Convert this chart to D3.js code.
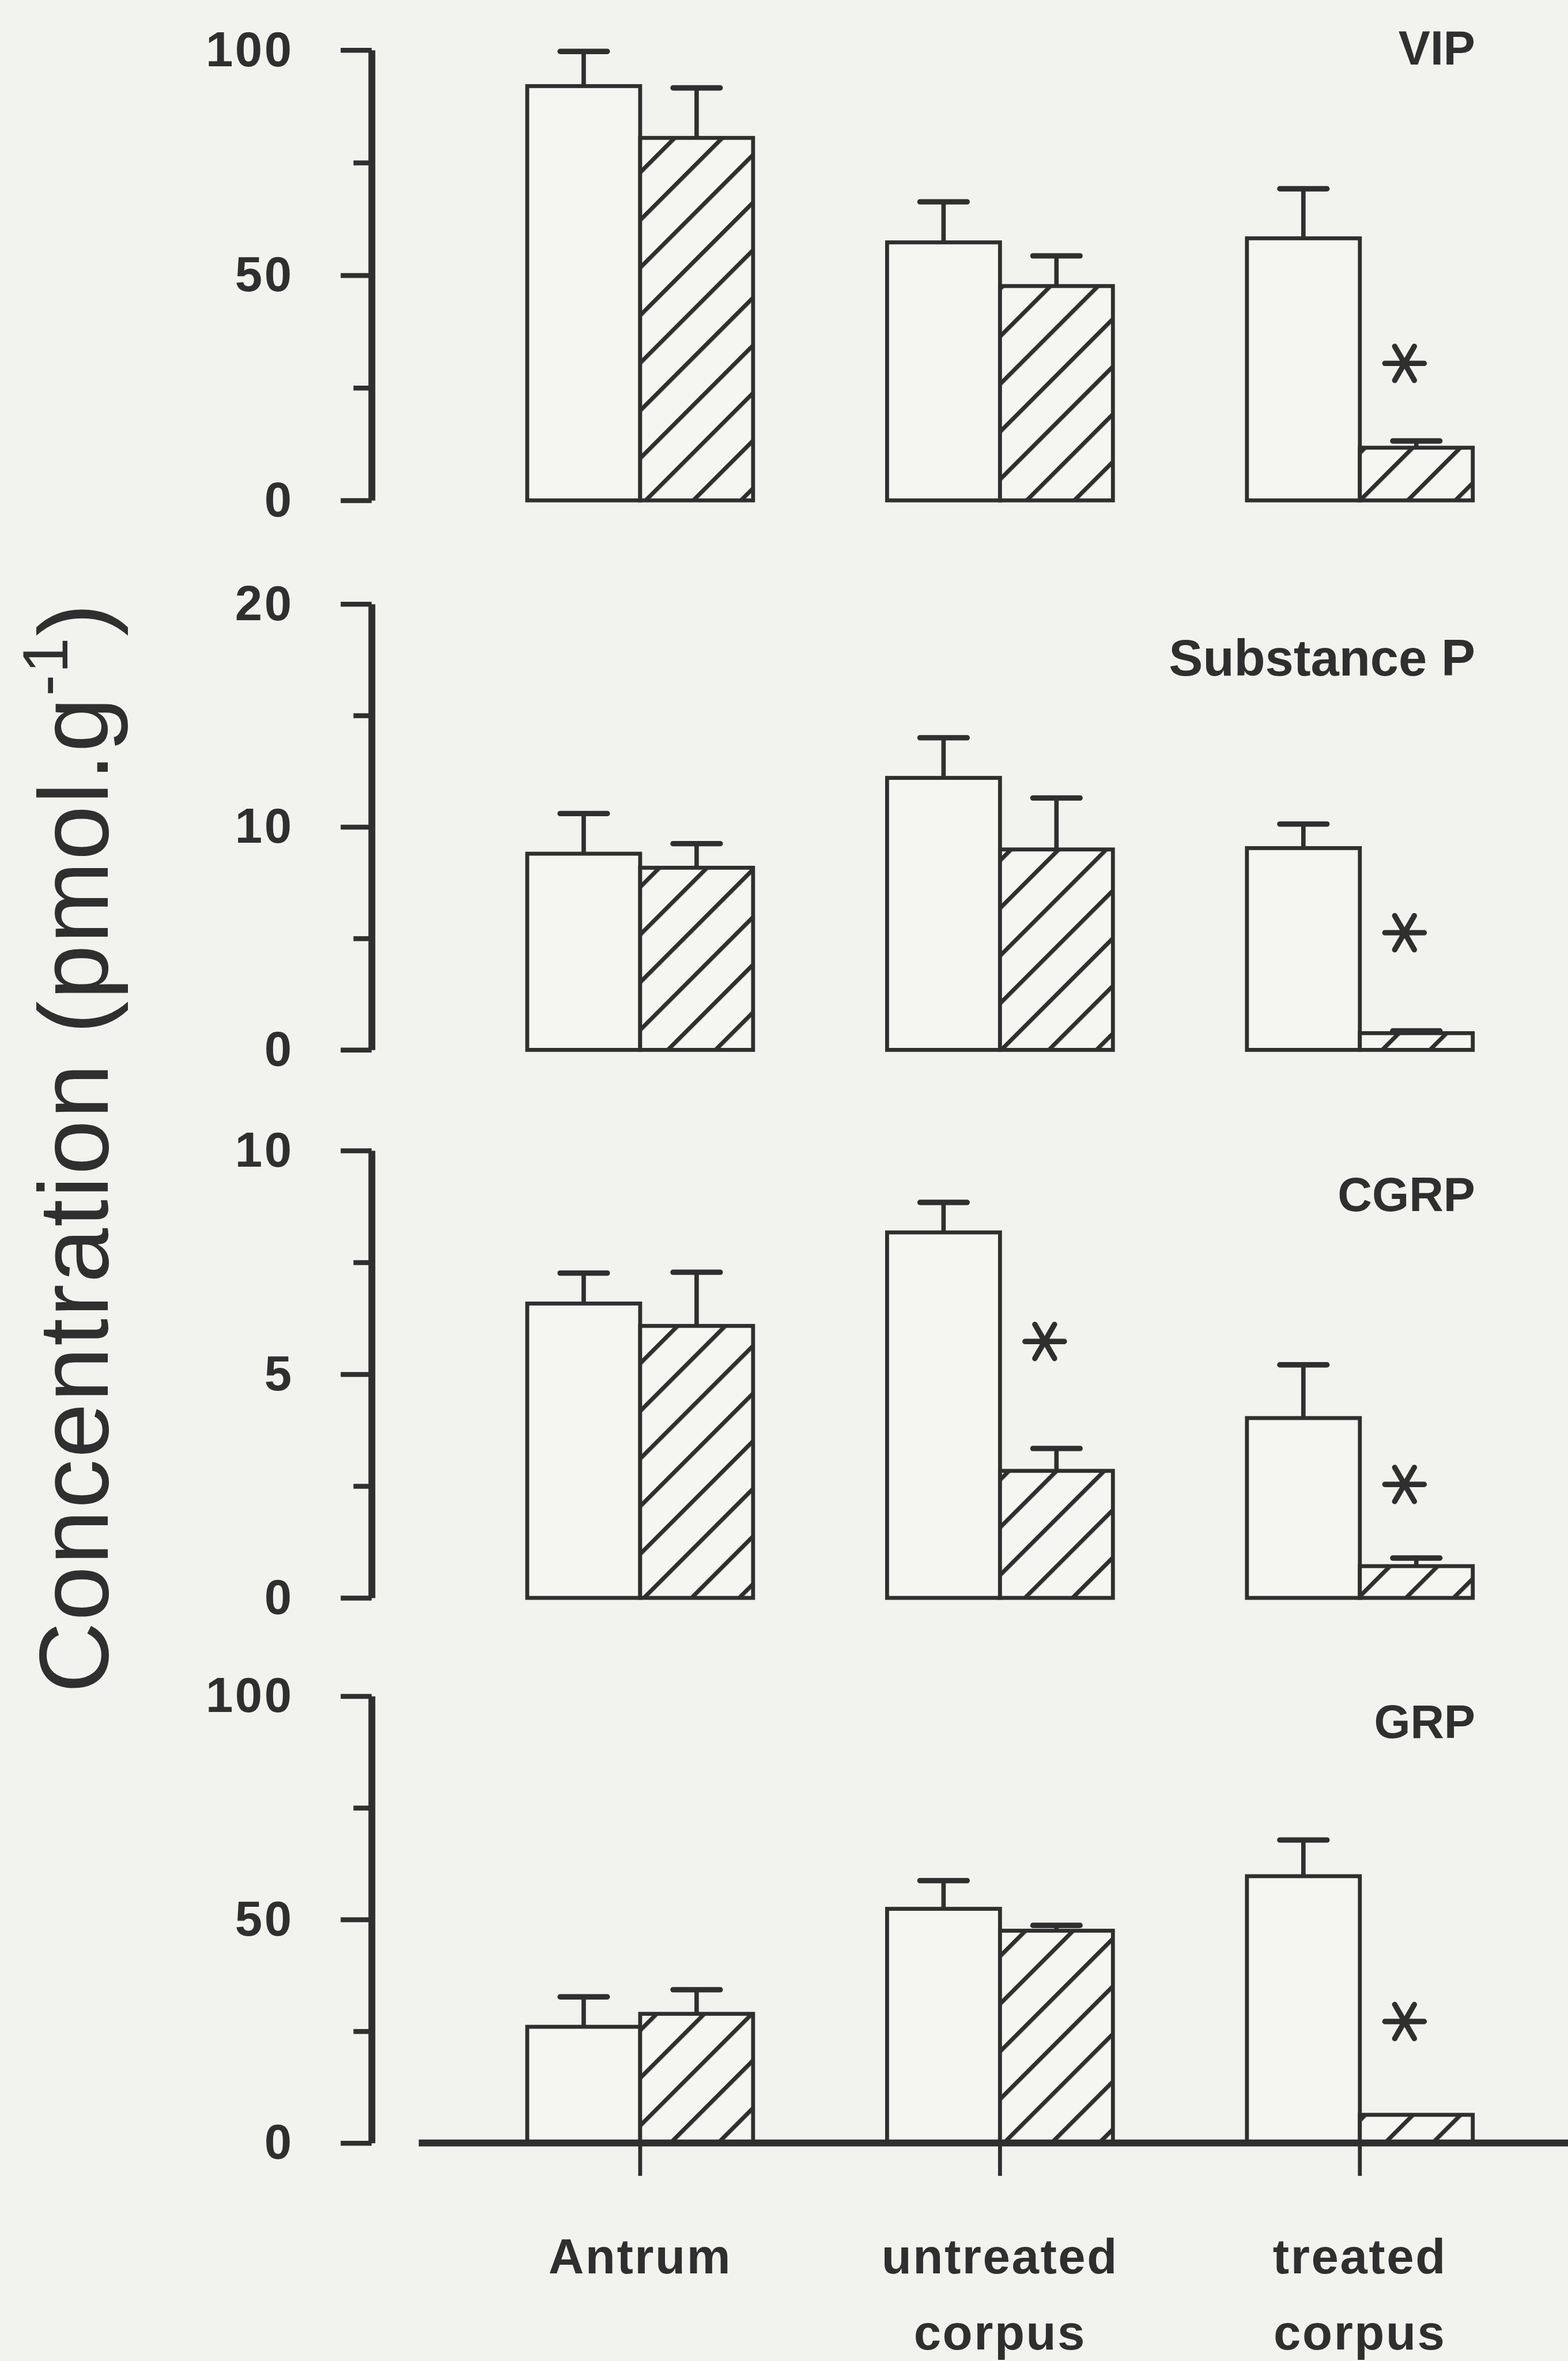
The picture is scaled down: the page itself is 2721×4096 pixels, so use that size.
<!DOCTYPE html>
<html>
<head>
<meta charset="utf-8">
<script src="https://cdn.jsdelivr.net/npm/d3@7"></script>
<style>
  html, body { margin: 0; padding: 0; background: #f2f2ef; }
  svg { display: block; }
</style>
</head>
<body>
<script>
// ---------- data ----------
const sites = ["Antrum", "untreated corpus", "treated corpus"];
const siteLines = [["Antrum"], ["untreated", "corpus"], ["treated", "corpus"]];
const peptides = ["VIP", "Substance P", "CGRP", "GRP"];
const axisMax = [100, 20, 10, 100];
const majorTicks = [[0, 50, 100], [0, 10, 20], [0, 5, 10], [0, 50, 100]];
const minorTicks = [[25, 75], [5, 15], [2.5, 7.5], [25, 75]];

// open bars (control) and hatched bars (treated): mean and SEM per site
const controlMean = [
  [92.0, 57.3, 58.2],
  [8.8, 12.2, 9.05],
  [6.58, 8.17, 4.02],
  [26.0, 52.4, 59.7]
];
const controlSem = [
  [7.7, 9.0, 11.0],
  [1.8, 1.8, 1.08],
  [0.68, 0.67, 1.19],
  [6.7, 6.3, 8.1]
];
const treatedMean = [
  [80.5, 47.6, 11.7],
  [8.17, 8.99, 0.75],
  [6.08, 2.84, 0.71],
  [28.9, 47.5, 6.3]
];
const treatedSem = [
  [11.1, 6.7, 1.5],
  [1.08, 2.31, 0.1],
  [1.2, 0.5, 0.18],
  [5.4, 1.2, 0]
];
// significant difference from the open bar
const significant = [
  [false, false, true],
  [false, false, true],
  [false, true, true],
  [false, false, true]
];

// ---------- layout ----------
const W = 3194, H = 4808;
const ink = "#2f2f2f";
const paper = "#f2f2ef";
const barFill = "#f5f5f2";
const panelTop = [102, 1230, 2343, 3454];
const panelBottom = [1019, 2138, 3254, 4364];
const axisX = 757;
const labelDrop = [30, 146, 123, 85];
const labelSize = [97, 104, 97, 95];
const starRise = [[0, 0, 158], [0, 0, 200], [0, 218, 150], [0, 0, 190]];
const font = "'Liberation Sans', Arial, Helvetica, sans-serif";

const svg = d3.select("body").append("svg")
  .attr("width", 2721)
  .attr("height", 4096)
  .attr("viewBox", `0 0 ${W} ${H}`);

svg.append("rect").attr("width", W).attr("height", H).attr("fill", paper);

// diagonal hatching for the treated bars
const defs = svg.append("defs");
const hatch = defs.append("pattern")
  .attr("id", "hatch")
  .attr("patternUnits", "userSpaceOnUse")
  .attr("width", 68.6)
  .attr("height", 68.6)
  .attr("patternTransform", "rotate(45)");
hatch.append("rect").attr("width", 68.6).attr("height", 68.6).attr("fill", barFill);
hatch.append("rect").attr("x", 0).attr("y", 0).attr("width", 8.5).attr("height", 68.6).attr("fill", ink);

const x = d3.scaleBand()
  .domain(sites)
  .range([937.5, 3136.5])
  .paddingInner(0.3724)
  .paddingOuter(0.1862);
const xs = d3.scaleBand()
  .domain(["control", "treated"])
  .range([0, x.bandwidth()]);

peptides.forEach((name, p) => {
  const y = d3.scaleLinear().domain([0, axisMax[p]]).range([panelBottom[p], panelTop[p]]);
  const g = svg.append("g").attr("class", "panel");

  const rows = sites.flatMap((s, i) => [
    { site: s, i, series: "control", mean: controlMean[p][i], sem: controlSem[p][i], sig: false },
    { site: s, i, series: "treated", mean: treatedMean[p][i], sem: treatedSem[p][i], sig: significant[p][i] }
  ]);

  // bars
  g.selectAll("rect.bar")
    .data(rows)
    .join("rect")
    .attr("class", "bar")
    .attr("x", d => x(d.site) + xs(d.series))
    .attr("y", d => y(d.mean))
    .attr("width", xs.bandwidth())
    .attr("height", d => y(0) - y(d.mean))
    .attr("fill", d => d.series === "treated" ? "url(#hatch)" : barFill)
    .attr("stroke", ink)
    .attr("stroke-width", 8)
    .attr("stroke-linejoin", "miter");

  // error bars (upper SEM)
  const eb = rows.filter(d => d.sem > 0);
  g.selectAll("line.stem")
    .data(eb)
    .join("line")
    .attr("class", "stem")
    .attr("x1", d => x(d.site) + xs(d.series) + xs.bandwidth() / 2)
    .attr("x2", d => x(d.site) + xs(d.series) + xs.bandwidth() / 2)
    .attr("y1", d => y(d.mean))
    .attr("y2", d => y(d.mean + d.sem))
    .attr("stroke", ink)
    .attr("stroke-width", 9);
  g.selectAll("line.cap")
    .data(eb)
    .join("line")
    .attr("class", "cap")
    .attr("x1", d => x(d.site) + xs(d.series) + xs.bandwidth() / 2 - 48)
    .attr("x2", d => x(d.site) + xs(d.series) + xs.bandwidth() / 2 + 48)
    .attr("y1", d => y(d.mean + d.sem))
    .attr("y2", d => y(d.mean + d.sem))
    .attr("stroke", ink)
    .attr("stroke-width", 11)
    .attr("stroke-linecap", "round");

  // asterisks for significant differences
  const starPath = (cx, cy, r) => [0, 60, 120].map(a => {
    const t = a * Math.PI / 180;
    const dx = r * Math.cos(t), dy = r * Math.sin(t);
    return `M${cx - dx},${cy - dy}L${cx + dx},${cy + dy}`;
  }).join("");
  g.selectAll("path.star")
    .data(rows.filter(d => d.sig))
    .join("path")
    .attr("class", "star")
    .attr("d", d => starPath(
      x(d.site) + xs(d.series) + xs.bandwidth() / 2 - 24,
      y(d.mean + d.sem) - starRise[p][d.i],
      40))
    .attr("stroke", ink)
    .attr("stroke-width", 11)
    .attr("stroke-linecap", "round")
    .attr("fill", "none");

  // peptide label
  g.append("text")
    .attr("x", 3005)
    .attr("y", y(axisMax[p]) + labelDrop[p])
    .attr("text-anchor", "end")
    .attr("fill", ink)
    .style("font-family", font)
    .style("font-weight", "bold")
    .style("font-size", labelSize[p] + "px")
    .text(name);

  // y axis: major ticks with labels, minor ticks without
  const ax = g.append("g")
    .attr("transform", `translate(${axisX},0)`)
    .call(d3.axisLeft(y)
      .tickValues(majorTicks[p])
      .tickSize(63)
      .tickSizeOuter(0)
      .tickPadding(96)
      .tickFormat(d3.format("d")))
    .attr("font-size", null)
    .attr("font-family", null);
  ax.select(".domain").attr("stroke", ink).attr("stroke-width", 14);
  ax.selectAll(".tick line").attr("stroke", ink).attr("stroke-width", 10);
  ax.selectAll(".tick text")
    .attr("fill", ink)
    .attr("letter-spacing", 4)
    .style("font-family", font)
    .style("font-weight", "bold")
    .style("font-size", "100px");

  const mx = g.append("g")
    .attr("transform", `translate(${axisX},0)`)
    .call(d3.axisLeft(y).tickValues(minorTicks[p]).tickSize(37).tickFormat(""));
  mx.select(".domain").remove();
  mx.selectAll(".tick line").attr("stroke", ink).attr("stroke-width", 10);

  // category axis below the last panel
  if (p === peptides.length - 1) {
    g.append("line")
      .attr("x1", 853).attr("x2", W)
      .attr("y1", y(0)).attr("y2", y(0))
      .attr("stroke", ink)
      .attr("stroke-width", 14);
    g.selectAll("line.xtick")
      .data(sites)
      .join("line")
      .attr("class", "xtick")
      .attr("x1", d => x(d) + x.bandwidth() / 2)
      .attr("x2", d => x(d) + x.bandwidth() / 2)
      .attr("y1", y(0))
      .attr("y2", y(0) + 67)
      .attr("stroke", ink)
      .attr("stroke-width", 8);
    const lab = g.selectAll("text.xlab")
      .data(sites)
      .join("text")
      .attr("class", "xlab")
      .attr("text-anchor", "middle")
      .attr("fill", ink)
      .attr("letter-spacing", 3)
      .style("font-family", font)
      .style("font-weight", "bold")
      .style("font-size", "100px");
    lab.selectAll("tspan")
      .data((d, i) => siteLines[i].map((t, k) => ({ t, k, cx: x(d) + x.bandwidth() / 2 })))
      .join("tspan")
      .attr("x", d => d.cx)
      .attr("y", d => 4630 + d.k * 155)
      .text(d => d.t);
  }
});

// y axis title
const title = svg.append("text")
  .attr("transform", "translate(220,2337) rotate(-90)")
  .attr("text-anchor", "middle")
  .attr("fill", ink)
  .attr("letter-spacing", 3)
  .style("font-family", font)
  .style("font-size", "200px");
title.append("tspan").text("Concentration (pmol.g");
title.append("tspan").attr("dy", -83).style("font-size", "130px").text("-1");
title.append("tspan").attr("dy", 83).text(")");
</script>
</body>
</html>
